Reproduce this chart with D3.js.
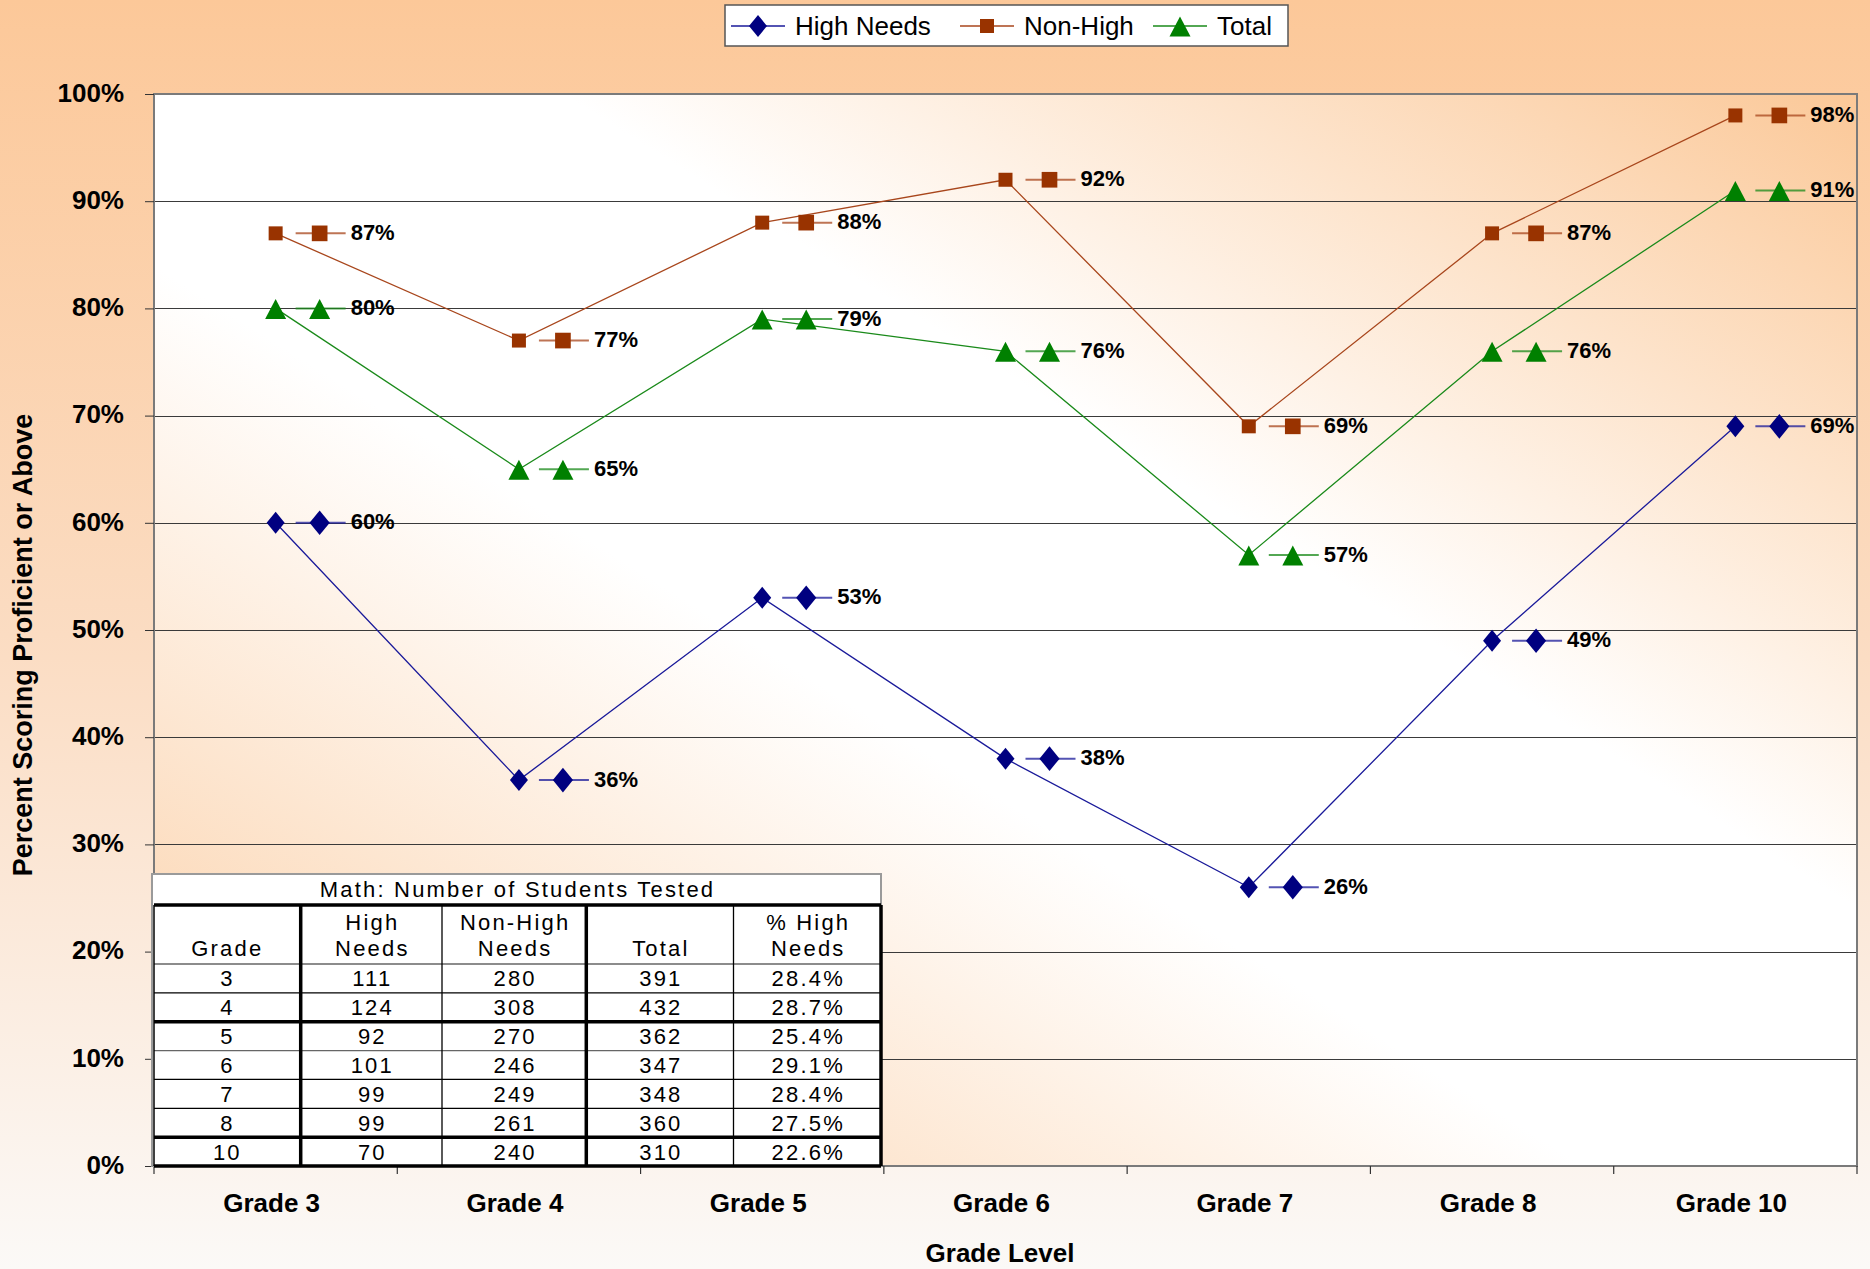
<!DOCTYPE html>
<html>
<head>
<meta charset="utf-8">
<script src="https://cdn.jsdelivr.net/npm/d3@7"></script>
<style>
  body { margin: 0; padding: 0; background: #fff; }
  svg { display: block; font-family: "Liberation Sans", Arial, sans-serif; }
  .axis path { display: none; }
  .axis text { font-size: 26px; font-weight: bold; fill: #000; font-family: "Liberation Sans", Arial, sans-serif; }
  .ytick line { stroke: #333; }
  .tbl { font-size: 22px; letter-spacing: 2.2px; fill: #000; }
</style>
</head>
<body>
<div id="chart"></div>
<script>
var width = 1870;
var height = 1269;

// chart data
var grades = ["Grade 3", "Grade 4", "Grade 5", "Grade 6", "Grade 7", "Grade 8", "Grade 10"];
var highNeeds = [0.60, 0.36, 0.53, 0.38, 0.26, 0.49, 0.69];
var nonHigh = [0.87, 0.77, 0.88, 0.92, 0.69, 0.87, 0.98];
var total = [0.80, 0.65, 0.79, 0.76, 0.57, 0.76, 0.91];
var yTickValues = [0, 0.1, 0.2, 0.3, 0.4, 0.5, 0.6, 0.7, 0.8, 0.9, 1.0];

// table data
var tableTitle = "Math: Number of Students Tested";
var tableHeaders = [["", "Grade"], ["High", "Needs"], ["Non-High", "Needs"], ["", "Total"], ["% High", "Needs"]];
var tableGrades = ["3", "4", "5", "6", "7", "8", "10"];
var tableHighNeeds = [111, 124, 92, 101, 99, 99, 70];
var tableNonHigh = [280, 308, 270, 246, 249, 261, 240];
var tableTotal = [391, 432, 362, 347, 348, 360, 310];
var tablePctHigh = ["28.4%", "28.7%", "25.4%", "29.1%", "28.4%", "27.5%", "22.6%"];

var series = [
  {name: "High Needs", values: highNeeds, line: "#1a1a9a", fill: "#000080", shape: "diamond"},
  {name: "Non-High", values: nonHigh, line: "#a8461c", fill: "#993300", shape: "square"},
  {name: "Total", values: total, line: "#1a8a1a", fill: "#008000", shape: "triangle"}
];

var plot = {left: 154, right: 1857, top: 94, bottom: 1166};

var svg = d3.select("#chart").append("svg")
  .attr("width", width)
  .attr("height", height);

var defs = svg.append("defs");
var bg = defs.append("linearGradient").attr("id", "bgGrad")
  .attr("x1", 0).attr("y1", 0).attr("x2", 0).attr("y2", 1);
bg.append("stop").attr("offset", 0).attr("stop-color", "#fcc899");
bg.append("stop").attr("offset", 0.5).attr("stop-color", "#fbdcc2");
bg.append("stop").attr("offset", 1).attr("stop-color", "#fbf9f7");

var pg = defs.append("linearGradient").attr("id", "plotGrad")
  .attr("x1", 0).attr("y1", 1).attr("x2", 1).attr("y2", 0);
pg.append("stop").attr("offset", 0).attr("stop-color", "#fbcda2");
pg.append("stop").attr("offset", 0.42).attr("stop-color", "#ffffff");
pg.append("stop").attr("offset", 0.62).attr("stop-color", "#ffffff");
pg.append("stop").attr("offset", 1).attr("stop-color", "#fbc898");

svg.append("rect").attr("width", width).attr("height", height).attr("fill", "url(#bgGrad)");

svg.append("rect")
  .attr("x", plot.left).attr("y", plot.top)
  .attr("width", plot.right - plot.left).attr("height", plot.bottom - plot.top)
  .attr("fill", "url(#plotGrad)");

var xScale = d3.scaleBand().domain(grades).range([plot.left, plot.right]).paddingInner(0).paddingOuter(0);
var yScale = d3.scaleLinear().domain([0, 1]).range([plot.bottom, plot.top]);
var cx = function (g) { return xScale(g) + xScale.bandwidth() / 2; };

// gridlines
svg.append("g").selectAll("line")
  .data(yTickValues.filter(function (d) { return d > 0 && d < 1; }))
  .enter().append("line")
  .attr("x1", plot.left).attr("x2", plot.right)
  .attr("y1", function (d) { return Math.round(yScale(d)) + 0.5; })
  .attr("y2", function (d) { return Math.round(yScale(d)) + 0.5; })
  .attr("stroke", "#3a3a3a").attr("stroke-width", 1.2);

// plot border
svg.append("rect")
  .attr("x", plot.left).attr("y", plot.top)
  .attr("width", plot.right - plot.left).attr("height", plot.bottom - plot.top)
  .attr("fill", "none").attr("stroke", "#7a7a7a").attr("stroke-width", 2);

// y axis
var yAxis = d3.axisLeft(yScale).tickValues(yTickValues).tickFormat(d3.format(".0%"))
  .tickSizeInner(9).tickSizeOuter(0).tickPadding(21);
svg.append("g").attr("class", "axis ytick")
  .attr("transform", "translate(" + plot.left + ",0)")
  .call(yAxis)
  .selectAll("text").attr("dy", "0.28em");

// x axis labels
var xAxis = d3.axisBottom(xScale).tickSize(0).tickPadding(28);
svg.append("g").attr("class", "axis")
  .attr("transform", "translate(-4," + plot.bottom + ")")
  .call(xAxis);

// x axis ticks at category boundaries
svg.append("g").selectAll("line")
  .data(grades.concat(["end"]))
  .enter().append("line")
  .attr("x1", function (d, i) { return i < grades.length ? xScale(d) : plot.right; })
  .attr("x2", function (d, i) { return i < grades.length ? xScale(d) : plot.right; })
  .attr("y1", plot.bottom).attr("y2", plot.bottom + 8)
  .attr("stroke", "#333").attr("stroke-width", 1.2);

// axis titles
svg.append("text")
  .attr("x", 1000).attr("y", 1262)
  .attr("text-anchor", "middle")
  .style("font-size", "26px").style("font-weight", "bold")
  .text("Grade Level");

svg.append("text")
  .attr("transform", "translate(32,645) rotate(-90)")
  .attr("text-anchor", "middle")
  .style("font-size", "27px").style("font-weight", "bold")
  .text("Percent Scoring Proficient or Above");

// marker shapes
function markerPath(shape, big) {
  var k = big ? 1.12 : 1;
  if (shape == "diamond") {
    return "M0," + (-11 * k) + "L" + (9 * k) + ",0L0," + (11 * k) + "L" + (-9 * k) + ",0Z";
  } else if (shape == "square") {
    var s = 7 * k;
    return "M" + (-s) + "," + (-s) + "H" + s + "V" + s + "H" + (-s) + "Z";
  } else {
    return "M0,-9.5L10.5,10.5L-10.5,10.5Z";
  }
}

// series lines, markers, labels
var line = d3.line()
  .x(function (d) { return cx(d.grade); })
  .y(function (d) { return yScale(d.value); });

series.forEach(function (s) {
  var pts = s.values.map(function (v, i) { return {grade: grades[i], value: v}; });
  var g = svg.append("g");
  g.append("path")
    .datum(pts)
    .attr("d", line)
    .attr("fill", "none")
    .attr("stroke", s.line)
    .attr("stroke-width", 1.3);

  g.selectAll(".pt")
    .data(pts)
    .enter().append("path")
    .attr("class", "pt")
    .attr("transform", function (d) { return "translate(" + cx(d.grade) + "," + yScale(d.value) + ")"; })
    .attr("d", markerPath(s.shape, false))
    .attr("fill", s.fill);

  var lab = g.selectAll(".lab")
    .data(pts)
    .enter().append("g")
    .attr("class", "lab")
    .attr("transform", function (d) { return "translate(" + cx(d.grade) + "," + yScale(d.value) + ")"; });
  lab.append("line")
    .attr("x1", 20).attr("x2", 70).attr("y1", 0).attr("y2", 0)
    .attr("stroke", s.line).attr("stroke-width", 2).attr("stroke-opacity", 0.75);
  lab.append("path")
    .attr("transform", "translate(44,0)")
    .attr("d", markerPath(s.shape, true))
    .attr("fill", s.fill);
  lab.append("text")
    .attr("x", 75).attr("dy", "0.3em")
    .style("font-size", "22px").style("font-weight", "bold")
    .text(function (d) { return Math.round(d.value * 100) + "%"; });
});

// legend
var legend = svg.append("g");
legend.append("rect")
  .attr("x", 725).attr("y", 5).attr("width", 563).attr("height", 41)
  .attr("fill", "#fff").attr("stroke", "#555").attr("stroke-width", 1.5);
var legendX = [731, 960, 1153];
series.forEach(function (s, i) {
  var lg = legend.append("g").attr("transform", "translate(" + legendX[i] + ",26)");
  lg.append("line").attr("x1", 0).attr("x2", 54).attr("y1", 0).attr("y2", 0)
    .attr("stroke", s.line).attr("stroke-width", 1.5);
  lg.append("path").attr("transform", "translate(27,0)")
    .attr("d", markerPath(s.shape, false))
    .attr("fill", s.fill);
  lg.append("text").attr("x", 64).attr("dy", "0.36em")
    .style("font-size", "26px")
    .text(s.name);
});

// data table
var tbl = {left: 152, right: 881, top: 874, titleBottom: 905, headBottom: 964, bottom: 1166};
var colEdges = [152, 300.7, 442, 586.3, 733.5, 881];
var rowY = d3.scaleLinear().domain([0, tableGrades.length]).range([tbl.headBottom, tbl.bottom]);
var table = svg.append("g");
table.append("rect")
  .attr("x", tbl.left).attr("y", tbl.top)
  .attr("width", tbl.right - tbl.left).attr("height", tbl.bottom - tbl.top)
  .attr("fill", "#fff").attr("stroke", "#9a9a9a").attr("stroke-width", 2);

table.append("text").attr("class", "tbl")
  .attr("x", (tbl.left + tbl.right) / 2 + 1).attr("y", 897)
  .attr("text-anchor", "middle")
  .text(tableTitle);

var colMid = function (c) { return (colEdges[c] + colEdges[c + 1]) / 2 + 1; };
tableHeaders.forEach(function (h, c) {
  table.append("text").attr("class", "tbl").attr("text-anchor", "middle")
    .attr("x", colMid(c)).attr("y", 930).text(h[0]);
  table.append("text").attr("class", "tbl").attr("text-anchor", "middle")
    .attr("x", colMid(c)).attr("y", 956).text(h[1]);
});

var cols = [tableGrades, tableHighNeeds, tableNonHigh, tableTotal, tablePctHigh];
cols.forEach(function (col, c) {
  table.selectAll(".c" + c)
    .data(col)
    .enter().append("text")
    .attr("class", "tbl c" + c)
    .attr("text-anchor", "middle")
    .attr("x", colMid(c))
    .attr("y", function (d, i) { return (rowY(i) + rowY(i + 1)) / 2 + 8; })
    .text(function (d) { return d; });
});

// table rules
var thick = 3.5, thin = 1.3;
table.append("line").attr("x1", tbl.left + 2).attr("x2", tbl.right).attr("y1", tbl.titleBottom).attr("y2", tbl.titleBottom)
  .attr("stroke", "#000").attr("stroke-width", thick);
var rowRules = [0, 1, 2, 3, 4, 5, 6, 7];
var thickRows = [2, 6, 7];
table.selectAll(".hr")
  .data(rowRules)
  .enter().append("line")
  .attr("x1", tbl.left + 2).attr("x2", tbl.right)
  .attr("y1", function (d) { return rowY(d); })
  .attr("y2", function (d) { return rowY(d); })
  .attr("stroke", function (d) { return d == 0 || d == 3 ? "#666" : "#000"; })
  .attr("stroke-width", function (d) { return thickRows.indexOf(d) >= 0 ? thick : thin; });
var thickCols = [1, 3, 5];
table.selectAll(".vr")
  .data([1, 2, 3, 4, 5])
  .enter().append("line")
  .attr("x1", function (d) { return colEdges[d]; })
  .attr("x2", function (d) { return colEdges[d]; })
  .attr("y1", tbl.titleBottom).attr("y2", tbl.bottom)
  .attr("stroke", "#000")
  .attr("stroke-width", function (d) { return thickCols.indexOf(d) >= 0 ? thick : thin; });
table.append("line").attr("x1", tbl.left + 2).attr("x2", tbl.left + 2)
  .attr("y1", tbl.titleBottom).attr("y2", tbl.bottom)
  .attr("stroke", "#000").attr("stroke-width", 1.5);
</script>
</body>
</html>
